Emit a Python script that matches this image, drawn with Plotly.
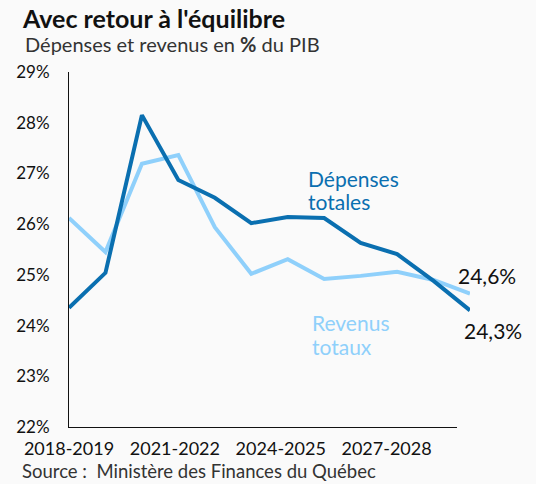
import plotly.graph_objects as go

years = ["2018-2019", "2019-2020", "2020-2021", "2021-2022", "2022-2023", "2023-2024",
         "2024-2025", "2025-2026", "2026-2027", "2027-2028", "2028-2029", "2029-2030"]
depenses = [24.35, 25.04, 28.15, 26.87, 26.52, 26.02, 26.14, 26.12, 25.63, 25.41, 24.88, 24.3]
revenus = [26.12, 25.45, 27.19, 27.36, 25.94, 25.02, 25.31, 24.92, 24.98, 25.06, 24.9, 24.63]
tick_years = ["2018-2019", "2021-2022", "2024-2025", "2027-2028"]
y_ticks = [22, 23, 24, 25, 26, 27, 28, 29]
y_ticktext = [f"{v}%" for v in y_ticks]

DARK = "#0a6fb0"
LIGHT = "#8fd0fb"
INK = "#111111"
FONT = "Lato"

fig = go.Figure()
fig.add_trace(go.Scatter(x=years, y=revenus, mode="lines",
                         line=dict(color=LIGHT, width=4), hoverinfo="skip"))
fig.add_trace(go.Scatter(x=years, y=depenses, mode="lines",
                         line=dict(color=DARK, width=4), hoverinfo="skip"))
# invisible helper trace so the (shorter) tick axis is drawn
fig.add_trace(go.Scatter(x=list(range(len(years))), y=depenses, xaxis="x2", yaxis="y",
                         mode="lines", line=dict(width=0, color="rgba(0,0,0,0)"),
                         hoverinfo="skip"))

n_int = len(years) - 1
fig.update_layout(
    width=536, height=484,
    margin=dict(l=69, r=66, t=72, b=57),
    paper_bgcolor="#fafafa", plot_bgcolor="rgba(0,0,0,0)",
    showlegend=False,
    font=dict(family=FONT, color=INK, size=17),
    xaxis=dict(type="category", range=[0, n_int], showgrid=False, zeroline=False,
               showline=False, ticks="", showticklabels=False),
    xaxis2=dict(type="linear", anchor="y", domain=[0, 0.968], range=[0, n_int],
                showgrid=False, zeroline=False, showline=True, linecolor=INK, linewidth=1,
                ticks="", tickvals=[years.index(t) for t in tick_years], ticktext=tick_years,
                ticklabelstandoff=5, tickfont=dict(size=18, color=INK)),
    yaxis=dict(range=[22, 29], showgrid=False, zeroline=False, showline=True,
               linecolor=INK, linewidth=1, ticks="", tickvals=y_ticks, ticktext=y_ticktext,
               ticklabelstandoff=15, tickfont=dict(size=17, color=INK)),
)

fig.add_annotation(xref="paper", yref="paper", x=-0.122, y=1.153, xanchor="left", yanchor="middle",
                   text="<b>Avec retour à l'équilibre</b>", showarrow=False,
                   font=dict(size=25, color=INK, family=FONT))
fig.add_annotation(xref="paper", yref="paper", x=-0.115, y=1.08, xanchor="left", yanchor="middle",
                   text="Dépenses et revenus en <b>%</b> du PIB", showarrow=False,
                   font=dict(size=20, color="#333333", family=FONT))
fig.add_annotation(xref="paper", yref="paper", x=-0.122, y=-0.124, xanchor="left", yanchor="middle",
                   text="Source :  Ministère des Finances du Québec", showarrow=False,
                   font=dict(size=18.5, color="#333333", family=FONT))

fig.add_annotation(xref="x", yref="y", x=6.5, y=26.9, xanchor="left", yanchor="middle",
                   text="Dépenses", showarrow=False,
                   font=dict(size=21, color=DARK, family=FONT))
fig.add_annotation(xref="x", yref="y", x=6.5, y=26.44, xanchor="left", yanchor="middle",
                   text="totales", showarrow=False,
                   font=dict(size=21, color=DARK, family=FONT))
fig.add_annotation(xref="x", yref="y", x=6.62, y=24.07, xanchor="left", yanchor="middle",
                   text="Revenus", showarrow=False,
                   font=dict(size=21, color=LIGHT, family=FONT))
fig.add_annotation(xref="x", yref="y", x=6.62, y=23.58, xanchor="left", yanchor="middle",
                   text="totaux", showarrow=False,
                   font=dict(size=21, color=LIGHT, family=FONT))
fig.add_annotation(xref="x", yref="y", x=years[-1], y=revenus[-1], xshift=-14, yshift=18,
                   xanchor="left", yanchor="middle", text="24,6%", showarrow=False,
                   font=dict(size=21, color=INK, family=FONT))
fig.add_annotation(xref="x", yref="y", x=years[-1], y=depenses[-1], xshift=-8, yshift=-20,
                   xanchor="left", yanchor="middle", text="24,3%", showarrow=False,
                   font=dict(size=21, color=INK, family=FONT))

fig.write_html("out.html", config={"displayModeBar": False},
               post_script="document.body.style.margin='0';")
